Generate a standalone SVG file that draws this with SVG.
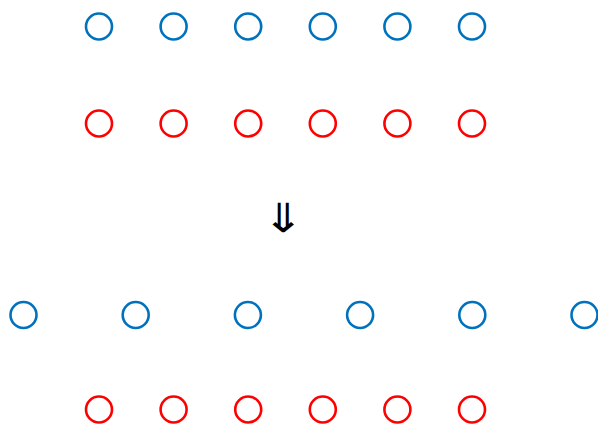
<svg xmlns="http://www.w3.org/2000/svg" width="598" height="425" viewBox="0 0 598 425">
<style>
.b{fill:none;stroke:#0072BD;stroke-width:2.6}
.r{fill:none;stroke:#FF0000;stroke-width:2.6}
.t{font-family:"DejaVu Sans",sans-serif;font-size:40px;fill:#000;text-anchor:middle}
</style>
<rect width="598" height="425" fill="#fff"/>
<g id="top-blue">
<circle class="b" cx="99" cy="26.5" r="13"/>
<circle class="b" cx="173.6" cy="26.5" r="13"/>
<circle class="b" cx="248.2" cy="26.5" r="13"/>
<circle class="b" cx="322.8" cy="26.5" r="13"/>
<circle class="b" cx="397.4" cy="26.5" r="13"/>
<circle class="b" cx="472" cy="26.5" r="13"/>
</g>
<g id="top-red">
<circle class="r" cx="99" cy="123.5" r="13"/>
<circle class="r" cx="173.6" cy="123.5" r="13"/>
<circle class="r" cx="248.2" cy="123.5" r="13"/>
<circle class="r" cx="322.8" cy="123.5" r="13"/>
<circle class="r" cx="397.4" cy="123.5" r="13"/>
<circle class="r" cx="472" cy="123.5" r="13"/>
</g>
<g id="arrow"><text class="t" transform="translate(283,232) scale(1.25,1)">⇓</text></g>
<g id="bottom-blue">
<circle class="b" cx="23.5" cy="315" r="13"/>
<circle class="b" cx="135.7" cy="315" r="13"/>
<circle class="b" cx="247.9" cy="315" r="13"/>
<circle class="b" cx="360.1" cy="315" r="13"/>
<circle class="b" cx="472.3" cy="315" r="13"/>
<circle class="b" cx="584.5" cy="315" r="13"/>
</g>
<g id="bottom-red">
<circle class="r" cx="99" cy="409.5" r="13"/>
<circle class="r" cx="173.6" cy="409.5" r="13"/>
<circle class="r" cx="248.2" cy="409.5" r="13"/>
<circle class="r" cx="322.8" cy="409.5" r="13"/>
<circle class="r" cx="397.4" cy="409.5" r="13"/>
<circle class="r" cx="472" cy="409.5" r="13"/>
</g>
</svg>
